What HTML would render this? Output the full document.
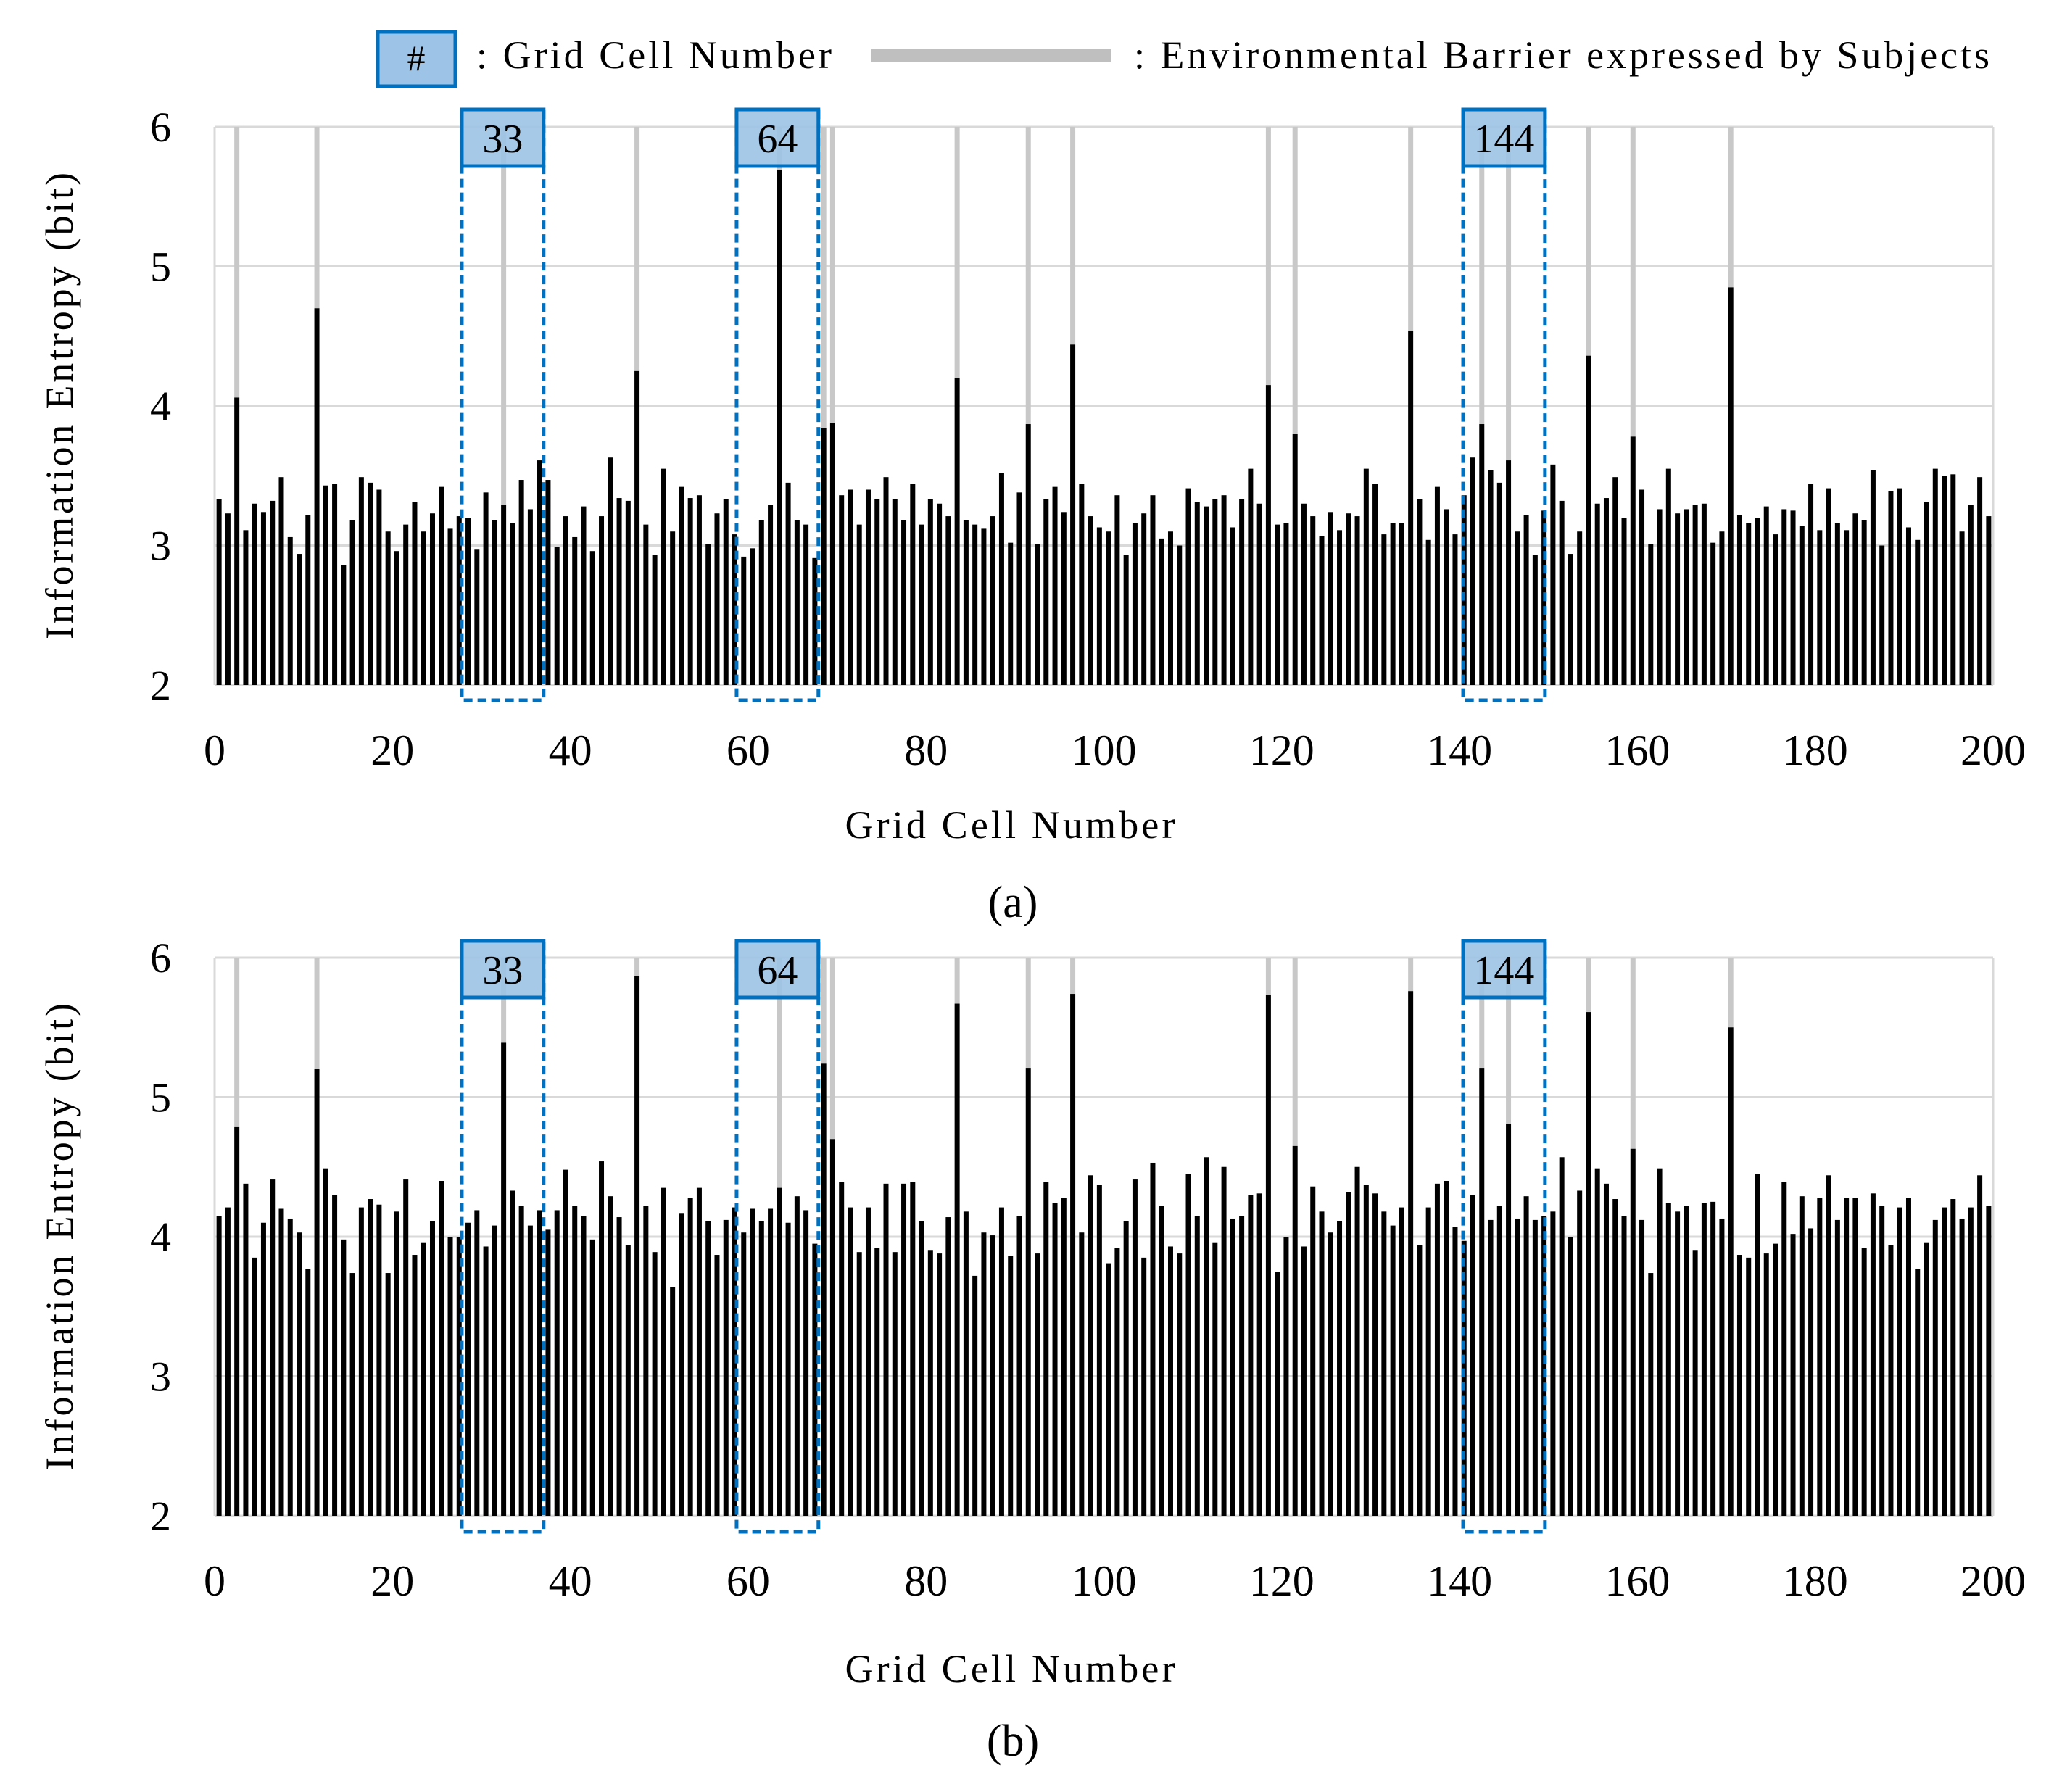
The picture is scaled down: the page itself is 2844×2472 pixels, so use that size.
<!DOCTYPE html>
<html>
<head>
<meta charset="utf-8">
<style>
  html, body { margin: 0; padding: 0; background: #fff; }
  #root { position: relative; width: 2844px; height: 2472px; overflow: hidden; }
  svg text { font-family: "Liberation Serif", "DejaVu Serif", serif; fill: #000; }
</style>
</head>
<body>
<div id="root">
<svg id="fig" width="2844" height="2472" viewBox="0 0 2844 2472" xmlns="http://www.w3.org/2000/svg">
  <g>
    <rect x="521" y="44" width="107" height="75" fill="#9dc3e6" stroke="#0070c0" stroke-width="5"/>
    <text x="574" y="97" font-size="50" text-anchor="middle">#</text>
    <text x="657" y="94" font-size="54" textLength="490">: Grid Cell Number</text>
    <rect x="1201" y="68" width="332" height="17" fill="#bfbfbf"/>
    <text x="1564" y="94" font-size="54" textLength="1180">: Environmental Barrier expressed by Subjects</text>
  </g>
  <g id="panelA"></g>
  <g id="panelB"></g>
</svg>
</div>
<script>
// ---- data ----
const categories = Array.from({length: 200}, (_, i) => i + 1);
const barrierCells = [3, 12, 33, 48, 64, 69, 70, 84, 92, 97, 119, 122, 135, 143, 146, 155, 160, 171];
const highlightLabels = ["33", "64", "144"];
const highlightStart = [27.8, 58.7, 140.4];
const highlightEnd = [37.0, 67.9, 149.6];
const yTicks = [2, 3, 4, 5, 6];
const xTicks = [0, 20, 40, 60, 80, 100, 120, 140, 160, 180, 200];

const seriesA = [
3.33,3.23,4.06,3.11,3.30,3.24,3.32,3.49,3.06,2.94,3.22,4.70,3.43,3.44,2.86,3.18,3.49,3.45,3.40,3.10,
2.96,3.15,3.31,3.10,3.23,3.42,3.12,3.21,3.20,2.97,3.38,3.18,3.29,3.16,3.47,3.26,3.61,3.47,2.99,3.21,
3.06,3.28,2.96,3.21,3.63,3.34,3.32,4.25,3.15,2.93,3.55,3.10,3.42,3.34,3.36,3.01,3.23,3.33,3.08,2.92,
2.98,3.18,3.29,5.69,3.45,3.18,3.15,2.91,3.84,3.88,3.36,3.40,3.15,3.40,3.33,3.49,3.33,3.18,3.44,3.15,
3.33,3.30,3.21,4.20,3.18,3.15,3.12,3.21,3.52,3.02,3.38,3.87,3.01,3.33,3.42,3.24,4.44,3.44,3.21,3.13,
3.10,3.36,2.93,3.16,3.23,3.36,3.05,3.10,3.00,3.41,3.31,3.28,3.33,3.36,3.13,3.33,3.55,3.30,4.15,3.15,
3.16,3.80,3.30,3.21,3.07,3.24,3.11,3.23,3.21,3.55,3.44,3.08,3.16,3.16,4.54,3.33,3.04,3.42,3.26,3.08,
3.36,3.63,3.87,3.54,3.45,3.61,3.10,3.22,2.93,3.25,3.58,3.32,2.94,3.10,4.36,3.30,3.34,3.49,3.20,3.78,
3.40,3.01,3.26,3.55,3.23,3.26,3.29,3.30,3.02,3.10,4.85,3.22,3.16,3.20,3.28,3.08,3.26,3.25,3.14,3.44,
3.11,3.41,3.16,3.11,3.23,3.18,3.54,3.00,3.39,3.41,3.13,3.04,3.31,3.55,3.50,3.51,3.10,3.29,3.49,3.21
];
const seriesB = [
4.15,4.21,4.79,4.38,3.85,4.10,4.41,4.20,4.13,4.03,3.77,5.20,4.49,4.30,3.98,3.74,4.21,4.27,4.23,3.74,
4.18,4.41,3.87,3.96,4.11,4.40,4.00,4.00,4.10,4.19,3.93,4.08,5.39,4.33,4.22,4.08,4.19,4.05,4.19,4.48,
4.22,4.15,3.98,4.54,4.29,4.14,3.94,5.87,4.22,3.89,4.35,3.64,4.17,4.28,4.35,4.11,3.87,4.12,4.21,4.03,
4.20,4.11,4.20,4.35,4.10,4.29,4.19,3.95,5.24,4.70,4.39,4.21,3.89,4.21,3.92,4.38,3.89,4.38,4.39,4.11,
3.90,3.88,4.14,5.67,4.18,3.72,4.03,4.01,4.21,3.86,4.15,5.21,3.88,4.39,4.24,4.28,5.74,4.03,4.44,4.37,
3.81,3.92,4.11,4.41,3.85,4.53,4.22,3.93,3.88,4.45,4.15,4.57,3.96,4.50,4.13,4.15,4.30,4.31,5.73,3.75,
4.00,4.65,3.93,4.36,4.18,4.03,4.11,4.32,4.50,4.37,4.31,4.18,4.08,4.21,5.76,3.94,4.21,4.38,4.40,4.07,
3.97,4.30,5.21,4.12,4.22,4.81,4.13,4.29,4.12,4.15,4.18,4.57,4.00,4.33,5.61,4.49,4.38,4.27,4.15,4.63,
4.12,3.74,4.49,4.24,4.18,4.22,3.90,4.24,4.25,4.13,5.50,3.87,3.85,4.45,3.88,3.95,4.39,4.02,4.29,4.06,
4.28,4.44,4.12,4.28,4.28,3.92,4.31,4.22,3.94,4.21,4.28,3.77,3.96,4.12,4.21,4.27,4.13,4.21,4.44,4.22
];

const NS = "http://www.w3.org/2000/svg";
function mk(tag, attrs, parent) {
  const el = document.createElementNS(NS, tag);
  for (const k in attrs) el.setAttribute(k, attrs[k]);
  parent.appendChild(el);
  return el;
}

function drawPanel(g, values, cfg) {
  const X0 = 296, X1 = 2749;
  const xScale = v => X0 + (v / 200) * (X1 - X0);
  const yScale = v => cfg.yBottom - (v - 2) / 4 * (cfg.yBottom - cfg.yTop);
  const bw = 7;

  yTicks.forEach(t => {
    const l = mk("line", {x1: X0, x2: X1, y1: yScale(t), y2: yScale(t), stroke: "#d9d9d9", "stroke-width": 3}, g);
    
    
    const tx = mk("text", {x: 236, y: yScale(t) + 20, "font-size": 58, "text-anchor": "end"}, g);
    tx.textContent = t;
    
    
  });
  const ax = mk("line", {x1: X0, x2: X0, y1: cfg.yTop, y2: cfg.yBottom, stroke: "#d9d9d9", "stroke-width": 3}, g);
  
  
  const ax2 = mk("line", {x1: X1, x2: X1, y1: cfg.yTop, y2: cfg.yBottom, stroke: "#d9d9d9", "stroke-width": 3}, g);
  
  

  xTicks.forEach(t => {
    const tx = mk("text", {x: xScale(t), y: cfg.xLabelY, "font-size": 60, "text-anchor": "middle"}, g);
    tx.textContent = t;
    
    
  });

  barrierCells.forEach(c => {
    const cx = xScale(c - 0.5);
    const l = mk("rect", {x: cx - bw / 2, y: cfg.yTop, width: bw, height: yScale(values[c - 1]) - cfg.yTop, fill: "#c8c8c8"}, g);
    
    
  });

  categories.forEach((c, i) => {
    const cx = xScale(c - 0.5);
    const y = yScale(values[i]);
    const r = mk("rect", {x: cx - bw / 2, y: y, width: bw, height: cfg.yBottom - y, fill: "#000"}, g);
    
    
  });

  highlightLabels.forEach((lab, i) => {
    const xa = xScale(highlightStart[i]), xb = xScale(highlightEnd[i]);
    const d = mk("rect", {x: xa, y: cfg.boxTop, width: xb - xa, height: cfg.dashBottom - cfg.boxTop, fill: "none", stroke: "#0070c0", "stroke-width": 5, "stroke-dasharray": "12 7"}, g);
    
    
    const b = mk("rect", {x: xa, y: cfg.boxTop, width: xb - xa, height: 78, fill: "#9dc3e6", "fill-opacity": 0.9, stroke: "#0070c0", "stroke-width": 5}, g);
    
    
    const t = mk("text", {x: (xa + xb) / 2, y: cfg.boxTop + 59, "font-size": 56, "text-anchor": "middle"}, g);
    t.textContent = lab;
    
    
  });

  const xt = mk("text", {x: 1393, y: cfg.xTitleY, "font-size": 54, "text-anchor": "middle", textLength: 455}, g);
  xt.textContent = "Grid Cell Number";
  
  

  const yc = (cfg.yTop + cfg.yBottom) / 2;
  const yt = mk("text", {x: 0, y: 0, "font-size": 54, "text-anchor": "middle", textLength: 644, transform: "translate(100," + yc + ") rotate(-90)"}, g);
  yt.textContent = "Information Entropy (bit)";
  
  

  const cap = mk("text", {x: 1397, y: cfg.captionY, "font-size": 62, "text-anchor": "middle"}, g);
  cap.textContent = cfg.caption;
  
  
}

drawPanel(document.getElementById("panelA"), seriesA,
  {yTop: 175, yBottom: 945, xLabelY: 1055, xTitleY: 1156, captionY: 1265, caption: "(a)", boxTop: 151, dashBottom: 966});
drawPanel(document.getElementById("panelB"), seriesB,
  {yTop: 1321, yBottom: 2091, xLabelY: 2201, xTitleY: 2320, captionY: 2422, caption: "(b)", boxTop: 1298, dashBottom: 2113});
</script>
</body>
</html>
